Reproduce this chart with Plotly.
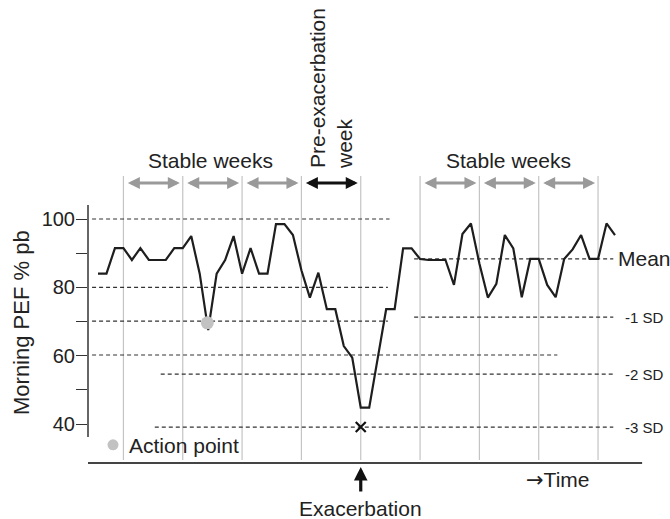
import plotly.graph_objects as go

# ---------------- data ----------------
days = list(range(62))
pef = [84, 84, 91.5, 91.5, 88, 91.5, 88, 88, 88, 91.5,
       91.5, 95, 84, 67.5, 84, 88, 95, 84, 91.5, 84,
       84, 98.5, 98.5, 95.3, 85, 77, 84.3, 73.6, 73.6, 62.8,
       59.4, 44.8, 44.8, 59.2, 73.6, 73.6, 91.4, 91.4, 88.3, 88,
       88, 88, 80.7, 95.6, 98.7, 87, 77, 81, 95.3, 91.4,
       77.1, 88.3, 88.3, 80.7, 77.1, 88.3, 91.1, 95.3, 88.3, 88.3,
       98.7, 95.3]

week_bounds = [3, 10, 17, 24, 31, 38, 45, 52, 59]
stable_weeks = [(3, 10), (10, 17), (17, 24), (38, 45), (45, 52), (52, 59)]
pre_exac_week = (24, 31)
exacerbation_day = 31

# left guide lines (value, start day, end day)
left_levels = [100, 80, 70.1, 60.2]
left_starts = [-0.7, -0.7, -0.7, -0.7]
left_ends = [34.4, 34.2, 34.2, 54.2]

# statistical levels
stat_labels = ["Mean", "-1 SD", "-2 SD", "-3 SD"]
stat_values = [88.3, 71.3, 54.6, 39.1]
stat_starts = [37.3, 37.3, 7.4, 6.7]
stat_end = 60.8

action_point_day = 12.9
action_point_value = 69.6

ytick_vals = [40, 50, 60, 70, 80, 90, 100]
ytick_text = ["40", "", "60", "", "80", "", "100"]

# ---------------- layout helpers ----------------
W, H = 670, 519
L, R, T, B = 88, 25, 170, 53
XR = [-1.18, 64.54]
YR = [27.71, 114.34]
FONT = "Liberation Sans, Arial, Helvetica, sans-serif"


def px(xp):
    return (xp - L) / (W - L - R)


def py(yp):
    return (H - B - yp) / (H - T - B)


fig = go.Figure()

# week separators
for d in week_bounds:
    fig.add_shape(type="line", xref="x", yref="y", x0=d, x1=d, y0=29.5, y1=112.6,
                  line=dict(color="#c4c4c4", width=1.2), layer="below")

# dashed guide lines
for v, a, b in zip(left_levels, left_starts, left_ends):
    fig.add_shape(type="line", xref="x", yref="y", x0=a, x1=b, y0=v, y1=v,
                  line=dict(color="#333333", width=1.2, dash="4px,3px"), layer="below")
for v, a in zip(stat_values, stat_starts):
    fig.add_shape(type="line", xref="x", yref="y", x0=a, x1=stat_end, y0=v, y1=v,
                  line=dict(color="#333333", width=1.2, dash="4px,3px"), layer="below")

# stat labels
for lab, v in zip(stat_labels, stat_values):
    big = lab == "Mean"
    fig.add_annotation(x=61.1 if big else 61.9, y=v, xref="x", yref="y", text=lab,
                       showarrow=False, xanchor="left", yanchor="middle",
                       font=dict(family=FONT, size=21 if big else 15, color="#222"))

# axes lines
fig.add_shape(type="line", xref="paper", yref="y", x0=0, x1=0, y0=36.2, y1=104.1,
              line=dict(color="#333333", width=1.5))
fig.add_shape(type="line", xref="x", yref="y", x0=XR[0], x1=64.2, y0=28.6, y1=28.6,
              line=dict(color="#444444", width=2))

# main PEF line
fig.add_trace(go.Scatter(x=days, y=pef, mode="lines",
                         line=dict(color="#1e1e1e", width=2.2), hoverinfo="skip"))

# action point
fig.add_trace(go.Scatter(x=[action_point_day], y=[action_point_value], mode="markers",
                         marker=dict(color="#c2c2c2", size=13), hoverinfo="skip"))
# exacerbation cross on -3 SD
fig.add_trace(go.Scatter(x=[exacerbation_day], y=[stat_values[3]], mode="markers",
                         marker=dict(symbol="x-thin", size=10, line=dict(color="#111", width=2.2)),
                         hoverinfo="skip"))
# legend dot for action point
fig.add_trace(go.Scatter(x=[1.77], y=[33.9], mode="markers", cliponaxis=False,
                         marker=dict(color="#c2c2c2", size=11), hoverinfo="skip"))

# week arrows
arrow_y = 110.5
for a, b in stable_weeks:
    fig.add_annotation(x=b - 0.35, y=arrow_y, ax=a + 0.35, ay=arrow_y,
                       xref="x", yref="y", axref="x", ayref="y", text="",
                       showarrow=True, arrowhead=2, startarrowhead=2, arrowside="end+start",
                       arrowsize=0.8, startarrowsize=0.8, arrowwidth=3, arrowcolor="#9a9a9a")
a, b = pre_exac_week
fig.add_annotation(x=b - 0.35, y=arrow_y, ax=a + 0.35, ay=arrow_y,
                   xref="x", yref="y", axref="x", ayref="y", text="",
                   showarrow=True, arrowhead=2, startarrowhead=2, arrowside="end+start",
                   arrowsize=0.8, startarrowsize=0.8, arrowwidth=3, arrowcolor="#111111")

# exacerbation arrow
fig.add_annotation(x=exacerbation_day, y=py(467), xref="x", yref="paper", ax=0, ay=26,
                   text="", showarrow=True, arrowhead=2, arrowsize=0.85, arrowwidth=3.2,
                   arrowcolor="#111111")

txt = dict(family=FONT, size=21, color="#222222")
fig.add_annotation(x=exacerbation_day, y=py(508), xref="x", yref="paper", text="Exacerbation",
                   showarrow=False, xanchor="center", yanchor="middle", font=txt)
fig.add_annotation(x=px(558), y=py(480), xref="paper", yref="paper",
                   text="<span style='font-family:DejaVu Sans'>\u2192</span>Time",
                   showarrow=False, xanchor="center", yanchor="middle", font=txt)
fig.add_annotation(x=px(210.5), y=py(160), xref="paper", yref="paper", text="Stable weeks",
                   showarrow=False, xanchor="center", yanchor="middle", font=txt)
fig.add_annotation(x=px(508.5), y=py(160), xref="paper", yref="paper", text="Stable weeks",
                   showarrow=False, xanchor="center", yanchor="middle", font=txt)
fig.add_annotation(x=px(331), y=py(89), xref="paper", yref="paper",
                   text="Pre-exacerbation<br>week", textangle=-90, align="left",
                   showarrow=False, xanchor="center", yanchor="middle", font=txt)
fig.add_annotation(x=px(127), y=py(445), xref="paper", yref="paper", text="Action point",
                   showarrow=False, xanchor="left", yanchor="middle", font=txt)
fig.add_annotation(x=px(21), y=py(323), xref="paper", yref="paper", text="Morning PEF % pb",
                   textangle=-90, showarrow=False, xanchor="center", yanchor="middle",
                   font=dict(family=FONT, size=22, color="#222222"))

fig.update_layout(
    width=W, height=H, margin=dict(l=L, r=R, t=T, b=B),
    paper_bgcolor="white", plot_bgcolor="white", showlegend=False,
    xaxis=dict(range=XR, visible=False, fixedrange=True),
    yaxis=dict(range=YR, showgrid=False, zeroline=False, showline=False,
               tickmode="array", tickvals=ytick_vals, ticktext=ytick_text,
               ticks="outside", ticklen=11, tickwidth=1.2, tickcolor="#333333",
               ticklabelstandoff=-3,
               tickfont=dict(family=FONT, size=20, color="#222222"), fixedrange=True),
)

fig.write_html("out.html", config={"displayModeBar": False},
               post_script="document.body.style.margin='0';")
